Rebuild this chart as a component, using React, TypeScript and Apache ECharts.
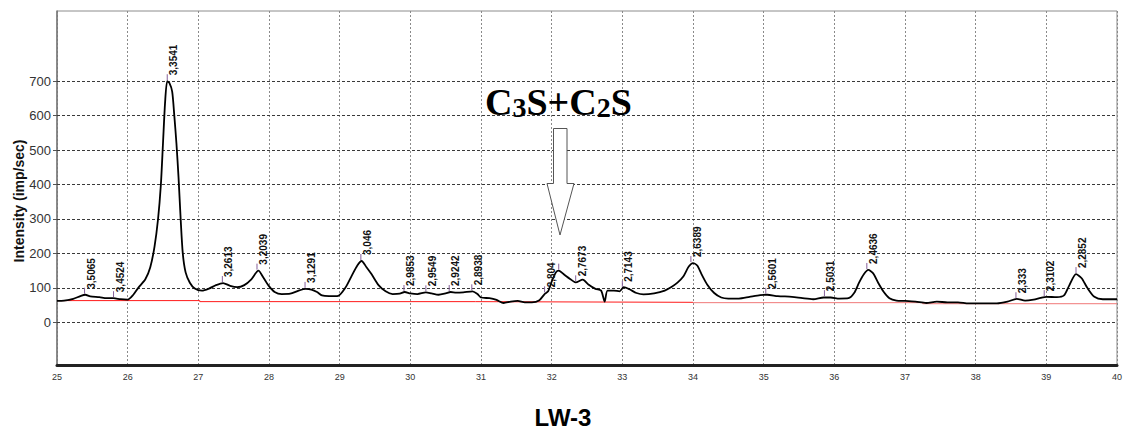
import React, { useEffect, useRef } from "react";
import * as echarts from "echarts";

// 2-theta (deg) and intensity (imp/sec) of the measured pattern
const curveX = [
  25.0, 25.1, 25.23, 25.33, 25.4, 25.47, 25.6, 25.7, 25.8, 25.9, 26.0, 26.08, 26.15, 26.25, 26.32, 26.38,
  26.43, 26.47, 26.5, 26.53, 26.56, 26.59, 26.63, 26.66, 26.69, 26.72, 26.75, 26.78, 26.82, 26.88, 26.95,
  27.05, 27.15, 27.25, 27.35, 27.45, 27.55, 27.65, 27.75, 27.85, 27.92, 28.0, 28.08, 28.18, 28.3, 28.42,
  28.52, 28.6, 28.68, 28.75, 28.85, 28.98, 29.08, 29.17, 29.25, 29.31, 29.38, 29.45, 29.55, 29.65, 29.75,
  29.85, 29.92, 30.0, 30.1, 30.22, 30.3, 30.4, 30.5, 30.57, 30.65, 30.75, 30.88, 30.95, 31.0, 31.12, 31.22,
  31.32, 31.42, 31.52, 31.62, 31.72, 31.82, 31.9, 31.95, 32.0, 32.06, 32.1, 32.18, 32.26, 32.34, 32.44,
  32.52, 32.62, 32.7, 32.75, 32.79, 32.88, 32.96, 33.02, 33.1, 33.2, 33.3, 33.45, 33.6, 33.7, 33.78, 33.86,
  33.94, 34.0, 34.06, 34.12, 34.2, 34.3, 34.4, 34.5, 34.65, 34.8, 34.95, 35.05, 35.2, 35.4, 35.55, 35.7,
  35.85, 35.95, 36.07, 36.2, 36.28, 36.35, 36.42, 36.48, 36.55, 36.62, 36.7, 36.78, 36.88, 37.0, 37.15,
  37.3, 37.45, 37.6, 37.75, 37.9, 38.1, 38.3, 38.45, 38.58, 38.7, 38.82, 38.92, 39.0, 39.15, 39.25, 39.32,
  39.42, 39.5, 39.58, 39.68, 39.8, 40.0,
];
const curveY = [
  62, 63, 68, 76, 80, 75, 73, 70, 70, 67, 66, 80, 100, 125, 160, 220,
  300, 400, 520, 640, 700, 695, 670, 600, 520, 420, 300, 200, 145, 115, 98,
  92, 98, 108, 114, 106, 102, 108, 125, 150, 130, 105, 88, 82, 83, 92,
  97, 95, 88, 78, 76, 77, 100, 135, 165, 178, 160, 140, 108, 90, 82,
  83, 88, 84, 82, 87, 84, 80, 84, 88, 86, 87, 90, 82, 72, 70, 65,
  56, 60, 62, 58, 58, 63, 82, 90, 118, 145, 150, 138, 126, 116, 124,
  110, 97, 92, 60, 92, 92, 90, 102, 96, 85, 81, 84, 92, 103, 115, 132,
  162, 172, 165, 140, 110, 85, 72, 69, 69, 74, 79, 80, 76, 74, 70, 67,
  72, 72, 69, 70, 85, 115, 140, 152, 142, 115, 88, 70, 63, 62, 60,
  56, 60, 58, 58, 55, 55, 55, 60, 68, 63, 66, 71, 74, 73, 78, 105,
  140, 128, 100, 74, 67, 67,
];

// background line (two parts)
const bgAx = [25.0, 27.02, 27.02, 30.92, 30.92, 34.0];
const bgAy = [63, 63, 60, 60, 58, 58];
const bgBx = [34.0, 37.25, 37.25, 40.0];
const bgBy = [57, 57, 54, 54];

// marked peaks: position, height, d-spacing label
const peakX = [
  25.39, 25.8, 26.56, 27.34, 27.83, 28.51, 29.3, 29.91, 30.22, 30.55, 30.87, 31.9, 32.1, 32.34, 33.0,
  33.97, 35.03, 35.86, 36.46, 38.57, 38.97, 39.42,
];
const peakY = [80, 70, 700, 114, 150, 97, 178, 88, 87, 88, 90, 84, 150, 116, 100, 172, 80, 73, 152, 67, 73, 140];
const peakLabels = [
  "3,5065", "3,4524", "3,3541", "3,2613", "3,2039", "3,1291", "3,046", "2,9853", "2,9549", "2,9242",
  "2,8938", "2,804", "", "2,7673", "2,7143", "2,6389", "2,5601", "2,5031", "2,4636", "2,333", "2,3102",
  "2,2852",
];

const yTicks = [0, 100, 200, 300, 400, 500, 600, 700];
const xMin = 25;
const xMax = 40;
const yMin = -124;
const yMax = 904;

const SANS = '"Liberation Sans", Arial, sans-serif';
const SERIF = '"Liberation Serif", "Times New Roman", serif';

export default function App() {
  const ref = useRef<HTMLDivElement>(null);

  useEffect(() => {
    if (!ref.current) return;
    const chart = echarts.init(ref.current, undefined, { renderer: "svg" });

    const option: any = {
      animation: false,
      backgroundColor: "#ffffff",
      grid: {
        left: 57,
        right: 7,
        top: 11,
        bottom: 67,
        show: true,
        borderColor: "#8c8c8c",
        borderWidth: 1,
        backgroundColor: "transparent",
      },
      xAxis: {
        type: "value",
        min: xMin,
        max: xMax,
        interval: 1,
        axisLine: { show: true, onZero: false, lineStyle: { color: "#222", width: 3 } },
        axisTick: { show: false },
        axisLabel: { fontSize: 9, color: "#333", margin: 7, fontFamily: SANS },
        splitLine: { show: true, lineStyle: { color: "#8a8a8a", type: [2, 2], width: 1 } },
      },
      yAxis: {
        type: "value",
        min: yMin,
        max: yMax,
        axisLine: { show: true, onZero: false, lineStyle: { color: "#777", width: 1.5 } },
        axisTick: { show: true, customValues: yTicks, length: 4, lineStyle: { color: "#555" } },
        axisLabel: { customValues: yTicks, fontSize: 13, color: "#333", margin: 6, fontFamily: SANS },
        splitLine: { show: false },
      },
      graphic: [
        {
          type: "text",
          x: 18.5,
          y: 201,
          rotation: Math.PI / 2,
          style: {
            text: "Intensity (imp/sec)",
            fontSize: 14,
            fontWeight: "bold",
            fontFamily: SANS,
            fill: "#111",
            align: "center",
            verticalAlign: "middle",
          },
        },
        {
          type: "text",
          x: 563,
          y: 417,
          style: {
            text: "LW-3",
            fontSize: 24,
            fontWeight: "bold",
            fontFamily: SANS,
            fill: "#000",
            align: "center",
            verticalAlign: "middle",
          },
        },
        {
          type: "text",
          x: 485,
          y: 102,
          z: 20,
          style: {
            text: "{a|C}{b|3}{a|S+C}{b|2}{a|S}",
            align: "left",
            verticalAlign: "middle",
            rich: {
              a: { fontSize: 38, fontWeight: "bold", fontFamily: SERIF, fill: "#000", verticalAlign: "bottom" },
              b: { fontSize: 28, fontWeight: "bold", fontFamily: SERIF, fill: "#000", verticalAlign: "bottom" },
            },
          },
        },
        {
          type: "polygon",
          z: 20,
          shape: {
            points: [
              [553.5, 128.5],
              [567, 128.5],
              [567, 183.5],
              [574, 183.5],
              [560, 235],
              [547, 183.5],
              [553.5, 183.5],
            ],
          },
          style: { fill: "#ffffff", stroke: "#555", lineWidth: 1 },
        },
      ],
      series: [
        {
          name: "background",
          type: "line",
          data: bgAx.map((x, i) => [x, bgAy[i]]),
          showSymbol: false,
          lineStyle: { color: "#ff1a1a", width: 1 },
          z: 2,
          silent: true,
          markLine: {
            silent: true,
            symbol: ["none", "none"],
            label: { show: false },
            lineStyle: { color: "#3a3a3a", type: [3, 2], width: 1 },
            data: yTicks.map((v) => ({ yAxis: v })),
            z: 1,
          },
        },
        {
          name: "background2",
          type: "line",
          data: bgBx.map((x, i) => [x, bgBy[i]]),
          showSymbol: false,
          lineStyle: { color: "#f07878", width: 1 },
          z: 2,
          silent: true,
        },
        {
          name: "pattern",
          type: "line",
          data: curveX.map((x, i) => [x, curveY[i]]),
          showSymbol: false,
          smooth: 0.25,
          lineStyle: { color: "#000", width: 1.8 },
          z: 3,
          silent: true,
        },
        {
          name: "peaks",
          type: "custom",
          data: peakX.map((x, i) => [x, peakY[i]]),
          z: 4,
          silent: true,
          renderItem: (params: any, api: any) => {
            const p = api.coord([api.value(0), api.value(1)]);
            const label = peakLabels[params.dataIndex];
            return {
              type: "group",
              children: [
                {
                  type: "line",
                  shape: { x1: p[0], y1: p[1] - 1, x2: p[0], y2: p[1] - 7 },
                  style: { stroke: "#86609a", lineWidth: 1 },
                },
                {
                  type: "text",
                  x: p[0] + 6.5,
                  y: p[1] - 6,
                  rotation: Math.PI / 2,
                  style: {
                    text: label,
                    fontSize: 10,
                    fontWeight: "bold",
                    fontFamily: SANS,
                    fill: "#111",
                    align: "left",
                    verticalAlign: "middle",
                  },
                },
              ],
            };
          },
        },
      ],
    };

    chart.setOption(option);
    return () => {
      chart.dispose();
    };
  }, []);

  return (
    <div
      ref={ref}
      style={{ position: "fixed", left: 0, top: 0, width: 1125, height: 432, background: "#fff" }}
    />
  );
}
